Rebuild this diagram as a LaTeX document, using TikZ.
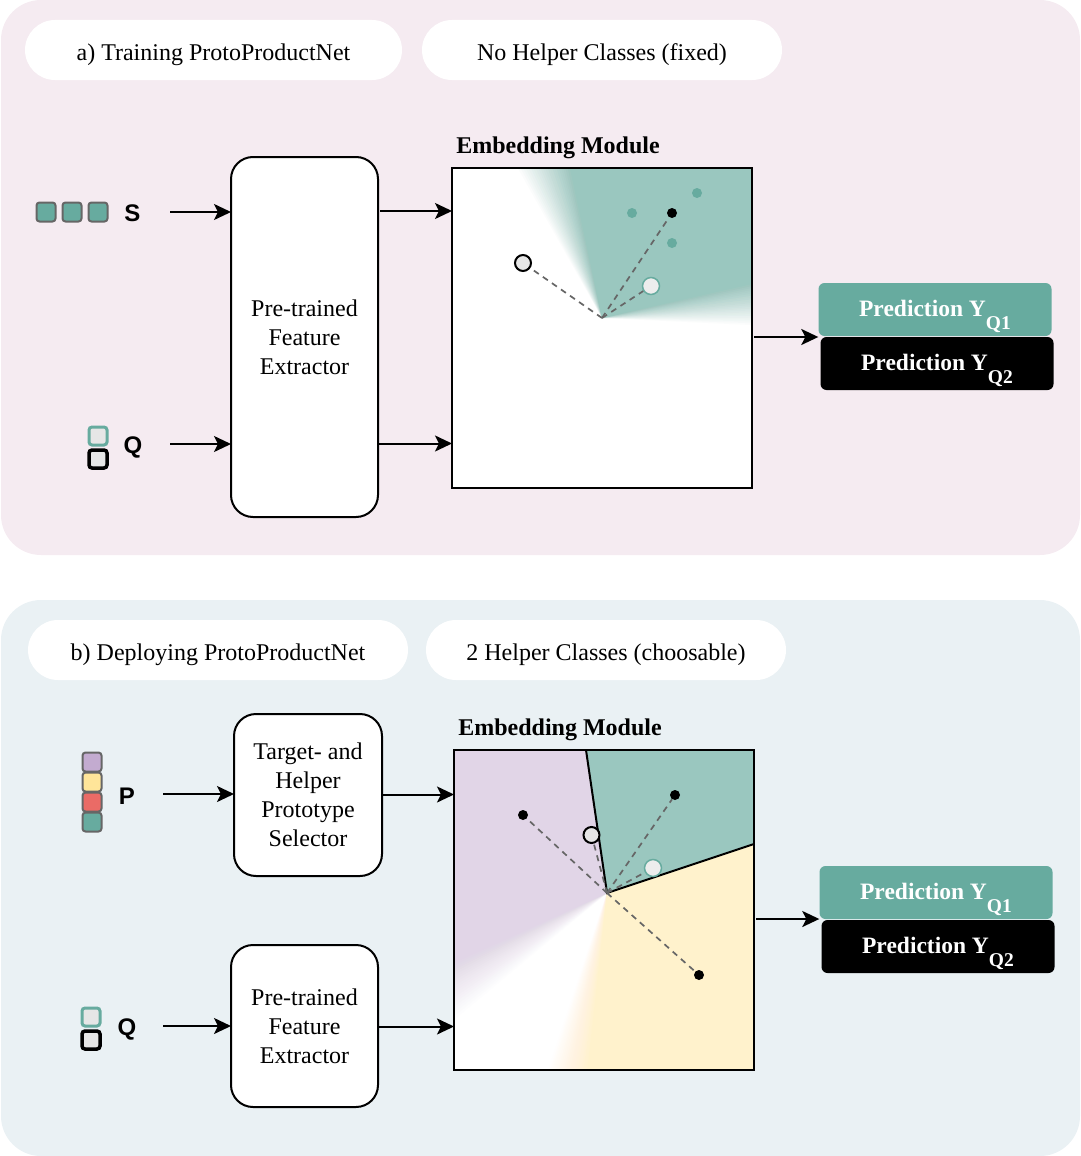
\documentclass[tikz,border=0pt]{standalone}
\usepackage{fontspec}
\setmainfont{Liberation Serif}
\setsansfont{Liberation Sans}
\usetikzlibrary{arrows.meta,calc}
\definecolor{pinkbg}{HTML}{F5EBF1}
\definecolor{bluebg}{HTML}{EAF1F4}
\definecolor{teal1}{HTML}{67AB9F}
\definecolor{tealw}{HTML}{9AC7BF}
\definecolor{purp}{HTML}{E1D5E7}
\definecolor{yell}{HTML}{FFF2CC}
\definecolor{purpsq}{HTML}{C3ABD0}
\definecolor{yellsq}{HTML}{FFE599}
\definecolor{redsq}{HTML}{EA6B66}
\definecolor{qgray}{HTML}{E6E6E6}
\definecolor{sqborder}{HTML}{666666}
\definecolor{dashgray}{HTML}{666666}
\newcommand{\predtext}[1]{Prediction Y\raisebox{-12.5pt}{\fontsize{19.5}{19.5}\selectfont #1}}
\begin{document}
\begin{tikzpicture}[x=1pt,y=-1pt,
 pill/.style={fill=white, rounded corners=30pt, minimum width=#1, minimum height=60pt, inner sep=0pt, text height=20pt, text depth=0pt, font=\fontsize{24}{29}\selectfont},
 procbox/.style={draw, line width=2pt, fill=white, rounded corners=22pt, minimum width=147pt, inner sep=0pt, outer sep=0pt, font=\fontsize{24}{29}\selectfont, align=center},
 embbox/.style={fill=white, minimum width=300pt, minimum height=320pt, inner sep=0pt, outer sep=0pt},
 embtitle/.style={font=\bfseries\fontsize{24}{29}\selectfont, inner sep=0pt},
 arr/.style={line width=2pt, -{Stealth[length=17pt,width=16pt,inset=4pt]}},
 sq/.style={draw=sqborder, line width=2pt, rounded corners=3pt, minimum size=19pt, inner sep=0pt},
 qsq/.style={fill=qgray, line width=3pt, rounded corners=3pt, minimum size=18pt, inner sep=0pt},
 lbl/.style={font=\sffamily\bfseries\fontsize{24}{29}\selectfont, inner sep=0pt},
 predbox/.style={rounded corners=6pt, minimum width=233pt, minimum height=53pt, inner sep=0pt, text height=18pt, text depth=4pt, text=white, font=\bfseries\fontsize{23.5}{28}\selectfont},
 dotb/.style={circle, fill=black, minimum size=10pt, inner sep=0pt},
 dott/.style={circle, fill=teal1, minimum size=10pt, inner sep=0pt},
 qgc/.style={circle, fill=qgray, draw=black, line width=2pt, minimum size=16pt, inner sep=0pt},
 qtc/.style={circle, fill=qgray!70!white, draw=teal1, line width=1.5pt, minimum size=17pt, inner sep=0pt},
 dsh/.style={draw=dashgray, line width=1.7pt, dash pattern=on 6pt off 5pt}
]
\useasboundingbox (0,0) rectangle (1080,1156);
% panels
\fill[pinkbg, rounded corners=40pt] (1,0) rectangle (1080,555);
\fill[bluebg, rounded corners=40pt] (1,600) rectangle (1080,1156);

% ---------- top panel ----------
\node[pill=377pt] (pa) at (213.5,50) {a) Training ProtoProductNet};
\node[pill=360pt] (pb) at (602,50) {No Helper Classes (fixed)};

\node[sq, fill=teal1] (s1) at (46,212) {};
\node[sq, fill=teal1] (s2) at (72,212) {};
\node[sq, fill=teal1] (s3) at (98,212) {};
\node[lbl] (slab) at (132.5,213.5) {S};
\node[qsq, draw=teal1] (q1a) at (98,436) {};
\node[qsq, draw=black, line width=3.5pt] (q1b) at (98,459) {};
\node[lbl] (qlab1) at (133,447) {Q};

\node[procbox, minimum height=360pt] (fe1) at (304.5,337) {Pre-trained\\Feature\\Extractor};

\coordinate (sst) at (170,212);
\coordinate (qst) at (170,444);
\draw[arr] (sst) -- (sst -| fe1.west);
\draw[arr] (qst) -- (qst -| fe1.west);

\node[embbox] (emb1) at (602,328) {};
\node[embtitle] (et1) at (558,148) {Embedding Module};
\coordinate (o1) at (602,318);
\begin{scope}
\clip (emb1.north west) rectangle (emb1.south east);
\fill[tealw] (o1) -- +(-14.1:600) -- +(-57:600) -- +(-100.6:600) -- cycle;
\foreach \i in {1,...,24}{
  \pgfmathsetmacro\op{1/(\i+1)}
  \fill[tealw, opacity=\op] (o1) -- +({-14.1+\i*0.7}:600) -- +(-57:600) -- +({-100.6-\i*0.78}:600) -- cycle;
}
\end{scope}
\draw[line width=2pt] (emb1.north west) rectangle (emb1.south east);

\node[dott] (t1) at (632,213) {};
\node[dott] (t2) at (697,193) {};
\node[dott] (t3) at (672,243) {};
\node[dotb] (b1) at (672,213) {};
\node[qgc] (c1) at (523,263) {};
\node[qtc] (c2) at (651,286) {};
\draw[dsh] (o1) -- (c1);
\draw[dsh] (o1) -- (b1);
\draw[dsh] (o1) -- (c2);

\coordinate (y1) at (0,211);
\coordinate (y2) at (0,443.5);
\draw[arr] (y1 -| fe1.east) ++(2,0) -- (y1 -| emb1.west);
\draw[arr] (y2 -| fe1.east) -- (y2 -| emb1.west);

\node[predbox, fill=teal1] (p1a) at (935,309.5) {\predtext{Q1}};
\node[predbox, fill=black] (p1b) at (937,363.5) {\predtext{Q2}};
\coordinate (y3) at (0,337);
\draw[arr] (y3 -| emb1.east) ++(2,0) -- (y3 -| p1a.west);

% ---------- bottom panel ----------
\node[pill=380pt] (pc) at (218,650) {b) Deploying ProtoProductNet};
\node[pill=360pt] (pd) at (606,650) {2 Helper Classes (choosable)};

\node[sq, fill=purpsq] (pp1) at (92,762) {};
\node[sq, fill=yellsq] (pp2) at (92,782) {};
\node[sq, fill=redsq] (pp3) at (92,802) {};
\node[sq, fill=teal1] (pp4) at (92,822) {};
\node[lbl] (plab) at (127,796) {P};
\node[qsq, draw=teal1] (q2a) at (91,1017) {};
\node[qsq, draw=black, line width=3.5pt] (q2b) at (91,1040) {};
\node[lbl] (qlab2) at (127,1029) {Q};

\node[procbox, minimum width=148pt, minimum height=162pt] (ts) at (308,795) {Target- and\\Helper\\Prototype\\Selector};
\node[procbox, minimum height=162pt] (fe2) at (304.5,1026) {Pre-trained\\Feature\\Extractor};

\coordinate (pst) at (163,794);
\coordinate (q2st) at (163,1026);
\draw[arr] (pst) -- (pst -| ts.west);
\draw[arr] (q2st) -- (q2st -| fe2.west);

\node[embbox] (emb2) at (604,910) {};
\node[embtitle] (et2) at (560,730) {Embedding Module};
\coordinate (o2) at (607,893);
\coordinate (tb) at (586,750);
\coordinate (rb) at (754,844);
\begin{scope}
\clip (emb2.north west) rectangle (emb2.south east);
\fill[tealw] (o2) -- ($(o2)!1.1!(tb)$) -- (775,735) -- ($(o2)!1.1!(rb)$) -- cycle;
\fill[purp] (o2) -- ($(o2)!1.1!(tb)$) -- (440,735) -- ($(o2)+(158.6:400)$) -- cycle;
\foreach \i in {1,...,24}{
  \pgfmathsetmacro\op{1/(\i+1)}
  \fill[purp, opacity=\op] (o2) -- ($(o2)!1.1!(tb)$) -- (440,735) -- ($(o2)+({158.6-\i*0.76}:400)$) -- cycle;
}
\fill[yell] (o2) -- ($(o2)!1.1!(rb)$) -- (775,1090) -- ($(o2)+(94:400)$) -- cycle;
\foreach \i in {1,...,24}{
  \pgfmathsetmacro\op{1/(\i+1)}
  \fill[yell, opacity=\op] (o2) -- ($(o2)!1.1!(rb)$) -- (775,1090) -- ($(o2)+({94+\i*0.6}:400)$) -- cycle;
}
\end{scope}
\draw[line width=2pt] (tb) -- (o2) -- (rb);
\draw[line width=2pt] (emb2.north west) rectangle (emb2.south east);

\node[dotb] (b2) at (523,815) {};
\node[dotb] (b3) at (675,795) {};
\node[dotb] (b4) at (699,975) {};
\node[qgc] (c3) at (591.5,835) {};
\node[qtc] (c4) at (653,868) {};
\draw[dsh] (o2) -- (b2);
\draw[dsh] (o2) -- (c3);
\draw[dsh] (o2) -- (b3);
\draw[dsh] (o2) -- (c4);
\draw[dsh] (o2) -- (b4);

\coordinate (y4) at (0,794.5);
\coordinate (y5) at (0,1026.5);
\draw[arr] (y4 -| ts.east) -- (y4 -| emb2.west);
\draw[arr] (y5 -| fe2.east) -- (y5 -| emb2.west);

\node[predbox, fill=teal1] (p2a) at (936,892.5) {\predtext{Q1}};
\node[predbox, fill=black] (p2b) at (938,946.5) {\predtext{Q2}};
\coordinate (y6) at (0,919);
\draw[arr] (y6 -| emb2.east) ++(2,0) -- (y6 -| p2a.west);
\end{tikzpicture}
\end{document}
